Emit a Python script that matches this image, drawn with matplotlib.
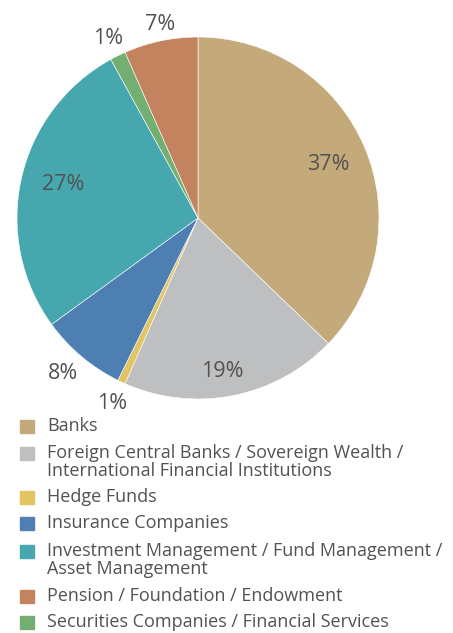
import matplotlib.pyplot as plt
import numpy as np
from matplotlib.patches import Rectangle

# investor type breakdown, clockwise from 12 o'clock
categories = [
    'Banks',
    'Foreign Central Banks / Sovereign Wealth /\nInternational Financial Institutions',
    'Hedge Funds',
    'Insurance Companies',
    'Investment Management / Fund Management /\nAsset Management',
    'Securities Companies / Financial Services',
    'Pension / Foundation / Endowment',
]
shares = [37.2, 19.4, 0.7, 7.7, 27.0, 1.4, 6.6]
colors = ['#C4AA7A', '#BEBFC1', '#E2C463', '#4E7FB3', '#46A7AE', '#73AF73', '#C3835F']

# legend order differs from slice order
legend_order = [0, 1, 2, 3, 4, 6, 5]

text_color = '#525252'
plt.rcParams['font.family'] = ['Open Sans', 'DejaVu Sans']

W, H = 453, 633
fig = plt.figure(figsize=(W / 100, H / 100), dpi=100)

cx, cy, R = 198, 218, 181
ax = fig.add_axes([(cx - R) / W, 1 - (cy + R) / H, 2 * R / W, 2 * R / H])
wedges, _ = ax.pie(shares, colors=colors, startangle=90, counterclock=False,
                   wedgeprops=dict(edgecolor='white', linewidth=0.4))
ax.set_xlim(-1, 1)
ax.set_ylim(-1, 1)
ax.axis('off')

# big slices labelled inside, small ones just outside the rim
label_dist = [0.78, 0.85, 1.12, 1.13, 0.77, 1.12, 1.10]
label_shift_cw = [0, 2, 0, 1, 2, 0, 1]
for w, val, d, s in zip(wedges, shares, label_dist, label_shift_cw):
    ang = np.deg2rad((w.theta1 + w.theta2) / 2 - s)
    ax.text(d * np.cos(ang), d * np.sin(ang) - 0.01, f'{round(val):d}%',
            ha='center', va='center', fontsize=15.5, color=text_color)

# legend drawn by hand so the two-line entries sit tight
rows_y = [426, 453, 497, 523, 551, 596, 622]
line_gap = 18
for i, y in zip(legend_order, rows_y):
    fig.patches.append(Rectangle((20 / W, 1 - (y + 6.5) / H), 14 / W, 13 / H,
                                 transform=fig.transFigure, color=colors[i]))
    for k, line in enumerate(categories[i].split('\n')):
        fig.text(47 / W, 1 - (y + k * line_gap) / H, line, ha='left',
                 va='center', fontsize=13, color=text_color)

fig.savefig('out.png', dpi=100)
